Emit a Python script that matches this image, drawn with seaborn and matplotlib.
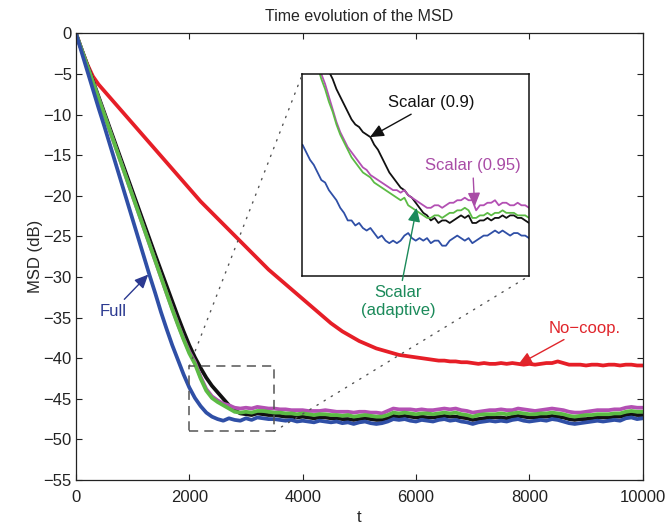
import matplotlib
matplotlib.use("Agg")
import matplotlib.pyplot as plt
import seaborn as sns
import pandas as pd
from matplotlib.patches import Rectangle, ConnectionPatch

# ---------------- data ----------------
t = list(range(0, 10001, 100))

msd_nocoop = [
    0.0, -2.0, -3.8, -5.3, -6.3, -7.1, -7.9, -8.7, -9.5, -10.3,
    -11.1, -11.9, -12.7, -13.5, -14.3, -15.1, -15.9, -16.7, -17.5, -18.3,
    -19.1, -19.9, -20.7, -21.4, -22.1, -22.8, -23.5, -24.2, -24.9, -25.6,
    -26.3, -27.0, -27.7, -28.4, -29.1, -29.7, -30.3, -30.9, -31.5, -32.1,
    -32.7, -33.3, -33.9, -34.5, -35.1, -35.7, -36.2, -36.7, -37.1, -37.5,
    -37.9, -38.2, -38.5, -38.8, -39.0, -39.2, -39.4, -39.6, -39.7, -39.8,
    -39.9, -40.0, -40.1, -40.2, -40.3, -40.3, -40.4, -40.4, -40.5, -40.5,
    -40.6, -40.7, -40.6, -40.7, -40.7, -40.6, -40.7, -40.6, -40.7, -40.8,
    -40.7, -40.8, -40.7, -40.6, -40.6, -40.4, -40.6, -40.8, -40.8, -40.8,
    -40.9, -40.8, -40.8, -40.9, -40.8, -40.8, -40.9, -40.8, -40.8, -40.9, -40.9]

msd_full = [
    0.0, -2.3, -4.6, -6.9, -9.2, -11.4, -13.7, -16.0, -18.3, -20.6,
    -22.9, -25.2, -27.5, -29.8, -32.0, -34.3, -36.4, -38.4, -40.2, -42.0,
    -43.6, -44.9, -45.9, -46.7, -47.2, -47.5, -47.7, -47.4, -47.6, -47.7,
    -47.4, -47.6, -47.3, -47.4, -47.5, -47.5, -47.6, -47.7, -47.6, -47.8,
    -47.7, -47.8, -47.9, -47.7, -47.8, -47.9, -47.8, -48.0, -47.9, -48.1,
    -47.9, -47.8, -48.0, -48.1, -48.0, -47.8, -47.5, -47.6, -47.5, -47.7,
    -47.8, -47.6, -47.7, -47.8, -47.6, -47.5, -47.7, -47.6, -47.8, -47.9,
    -48.1, -47.9, -47.8, -47.7, -47.8, -47.7, -47.8, -47.6, -47.5, -47.7,
    -47.8, -47.7, -47.6, -47.7, -47.5, -47.6, -47.8, -48.0, -48.1, -48.0,
    -47.9, -47.8, -47.7, -47.8, -47.7, -47.6, -47.7, -47.4, -47.3, -47.5, -47.4]

msd_scalar09 = [
    0.0, -1.95, -3.9, -5.85, -7.8, -9.75, -11.7, -13.65, -15.6, -17.55,
    -19.5, -21.45, -23.4, -25.35, -27.3, -29.2, -31.1, -33.0, -34.9, -36.7,
    -38.4, -39.9, -41.2, -42.4, -43.4, -44.2, -45.0, -45.8, -46.4, -46.8,
    -46.9, -47.0, -46.8, -46.9, -47.0, -47.0, -47.1, -47.2, -47.2, -47.3,
    -47.2, -47.3, -47.4, -47.3, -47.3, -47.4, -47.4, -47.5, -47.5, -47.6,
    -47.5, -47.4, -47.5, -47.6, -47.6, -47.4, -47.1, -47.2, -47.1, -47.2,
    -47.3, -47.2, -47.3, -47.3, -47.2, -47.1, -47.2, -47.2, -47.3, -47.4,
    -47.6, -47.5, -47.4, -47.3, -47.3, -47.3, -47.4, -47.2, -47.1, -47.2,
    -47.3, -47.3, -47.2, -47.2, -47.1, -47.2, -47.3, -47.5, -47.6, -47.5,
    -47.5, -47.4, -47.3, -47.3, -47.3, -47.2, -47.2, -47.0, -46.9, -47.0, -47.0]

msd_scalar_adapt = [
    0.0, -2.0, -4.0, -6.0, -8.0, -10.0, -12.0, -14.0, -16.0, -18.0,
    -20.0, -22.0, -24.0, -26.0, -28.0, -30.0, -32.0, -34.0, -35.9, -37.7,
    -39.4, -40.7, -42.5, -44.0, -44.9, -45.4, -45.8, -46.2, -46.6, -46.7,
    -46.6, -46.7, -46.5, -46.5, -46.6, -46.7, -46.7, -46.8, -46.8, -46.9,
    -46.8, -46.9, -47.0, -46.9, -46.9, -47.0, -47.0, -47.1, -47.0, -47.2,
    -47.1, -47.0, -47.1, -47.2, -47.2, -47.0, -46.7, -46.8, -46.7, -46.8,
    -46.9, -46.8, -46.8, -46.9, -46.8, -46.7, -46.8, -46.7, -46.9, -47.0,
    -47.2, -47.0, -46.9, -46.9, -46.9, -46.8, -46.9, -46.8, -46.7, -46.8,
    -46.9, -46.9, -46.8, -46.8, -46.7, -46.8, -46.9, -47.1, -47.2, -47.1,
    -47.0, -47.0, -46.9, -46.9, -46.9, -46.8, -46.8, -46.6, -46.5, -46.6, -46.6]

msd_scalar095 = [
    0.0, -2.0, -4.0, -6.0, -8.0, -10.0, -12.0, -14.0, -16.0, -18.0,
    -20.0, -22.0, -24.0, -26.0, -28.0, -30.0, -32.0, -33.9, -35.8, -37.6,
    -39.2, -40.5, -42.3, -43.8, -44.7, -45.2, -45.6, -45.8, -46.1, -46.2,
    -46.1, -46.2, -46.0, -46.1, -46.2, -46.2, -46.3, -46.3, -46.4, -46.4,
    -46.4, -46.5, -46.5, -46.5, -46.4, -46.5, -46.6, -46.6, -46.6, -46.7,
    -46.6, -46.6, -46.7, -46.7, -46.8, -46.5, -46.2, -46.3, -46.3, -46.3,
    -46.4, -46.3, -46.4, -46.4, -46.3, -46.2, -46.3, -46.2, -46.4, -46.5,
    -46.7, -46.6, -46.5, -46.4, -46.4, -46.3, -46.4, -46.4, -46.2, -46.3,
    -46.4, -46.5, -46.4, -46.3, -46.2, -46.3, -46.4, -46.6, -46.7, -46.7,
    -46.6, -46.5, -46.4, -46.4, -46.4, -46.3, -46.3, -46.1, -46.0, -46.1, -46.1]

# finer view used for the zoomed inset (t = 2000 ... 3500, step 25)
t_zoom = list(range(2000, 3501, 25))
zoom_full = [
    -43.8, -44.1, -44.4, -44.6, -44.9, -45.2, -45.3, -45.6, -45.8, -46.0,
    -46.3, -46.5, -46.8, -46.8, -47.0, -46.9, -47.1, -47.2, -47.1, -47.3,
    -47.5, -47.4, -47.6, -47.7, -47.6, -47.7, -47.6, -47.4, -47.3, -47.5,
    -47.6, -47.5, -47.6, -47.5, -47.7, -47.6, -47.6, -47.8, -47.8, -47.6,
    -47.5, -47.4, -47.5, -47.6, -47.5, -47.7, -47.6, -47.5, -47.4, -47.4,
    -47.3, -47.2, -47.3, -47.2, -47.3, -47.4, -47.3, -47.3, -47.4, -47.4,
    -47.5]
zoom_scalar09 = [
    -38.4, -38.8, -39.2, -39.5, -39.9, -40.3, -40.6, -40.9, -41.2, -41.6,
    -41.9, -42.2, -42.5, -42.8, -43.0, -43.1, -43.3, -43.4, -43.5, -43.8,
    -44.0, -44.3, -44.6, -44.9, -45.1, -45.3, -45.5, -45.6, -45.8, -45.9,
    -46.1, -46.3, -46.5, -46.6, -46.8, -46.7, -46.9, -46.8, -46.8, -46.9,
    -46.8, -46.7, -46.6, -46.7, -46.6, -46.9, -46.9, -46.8, -46.8, -46.7,
    -46.8, -46.7, -46.7, -46.6, -46.7, -46.6, -46.6, -46.7, -46.7, -46.8,
    -46.9]
zoom_scalar_adapt = [
    -39.4, -39.7, -40.0, -40.4, -40.7, -41.2, -41.6, -42.1, -42.5, -43.0,
    -43.4, -43.7, -44.0, -44.3, -44.5, -44.7, -44.9, -45.0, -45.1, -45.3,
    -45.4, -45.5, -45.6, -45.7, -45.8, -45.9, -46.0, -45.9, -46.2, -46.3,
    -46.4, -46.5, -46.6, -46.7, -46.7, -46.6, -46.6, -46.7, -46.6, -46.5,
    -46.5, -46.4, -46.4, -46.3, -46.4, -46.7, -46.7, -46.6, -46.6, -46.5,
    -46.6, -46.5, -46.5, -46.4, -46.5, -46.5, -46.5, -46.6, -46.6, -46.6,
    -46.7]
zoom_scalar095 = [
    -39.2, -39.5, -39.9, -40.2, -40.5, -41.0, -41.4, -41.9, -42.4, -42.9,
    -43.3, -43.6, -43.9, -44.1, -44.3, -44.5, -44.7, -44.8, -45.0, -45.1,
    -45.2, -45.3, -45.4, -45.5, -45.6, -45.6, -45.7, -45.6, -45.8, -45.9,
    -46.0, -46.1, -46.2, -46.3, -46.3, -46.2, -46.2, -46.3, -46.2, -46.1,
    -46.1, -46.0, -46.0, -45.9, -46.0, -46.0, -46.4, -46.2, -46.2, -46.1,
    -46.1, -46.0, -46.2, -46.1, -46.1, -46.2, -46.2, -46.1, -46.2, -46.2,
    -46.3]

x_ticks = [0, 2000, 4000, 6000, 8000, 10000]
y_ticks = [0, -5, -10, -15, -20, -25, -30, -35, -40, -45, -50, -55]

# ---------------- style ----------------
sns.set_style("ticks")
plt.rcParams['font.family'] = ['Liberation Sans', 'DejaVu Sans']
plt.rcParams['axes.unicode_minus'] = True

C_RED = '#e61e27'
C_BLUE = '#2f4fa6'
C_GREEN = '#5cbb45'
C_MAG = '#b350b3'
C_BLACK = '#111111'

fig = plt.figure(figsize=(6.68, 5.25), dpi=100)
ax = fig.add_axes([0.1136, 0.0857, 0.8486, 0.8509])

df = pd.DataFrame({'t': t, 'nocoop': msd_nocoop, 'full': msd_full,
                   's09': msd_scalar09, 'sad': msd_scalar_adapt,
                   's095': msd_scalar095})
LW = 2.7
for col, c in [('nocoop', C_RED), ('s09', C_BLACK), ('s095', C_MAG),
               ('sad', C_GREEN), ('full', C_BLUE)]:
    sns.lineplot(data=df, x='t', y=col, ax=ax, color=c, linewidth=LW,
                 estimator=None, sort=False)

ax.set_xlim(0, 10000)
ax.set_ylim(-55, 0)
ax.set_xticks(x_ticks)
ax.set_yticks(y_ticks)
ax.tick_params(direction='in', length=4, width=0.8, top=True, right=True,
               labelsize=12, colors='#222222')
ax.tick_params(axis='x', pad=7)
ax.tick_params(axis='y', pad=3)
for s in ax.spines.values():
    s.set_linewidth(0.9)
    s.set_color('#222222')
ax.set_xlabel('t', fontsize=12, labelpad=4)
ax.set_ylabel('MSD (dB)', fontsize=12, labelpad=0)
ax.set_title('Time evolution of the MSD', fontsize=11.5, pad=9)

# zoom region
zx0, zx1, zy0, zy1 = 2000, 3500, -49, -41
ax.add_patch(Rectangle((zx0, zy0), zx1 - zx0, zy1 - zy0, fill=False,
                       ec='#555555', lw=1.1, ls=(0, (6, 4)), zorder=5))

axins = fig.add_axes([0.4528, 0.4743, 0.3391, 0.3848])
dz = pd.DataFrame({'t': t_zoom, 'full': zoom_full, 's09': zoom_scalar09,
                   'sad': zoom_scalar_adapt, 's095': zoom_scalar095})
for col, c in [('s09', C_BLACK), ('s095', C_MAG), ('sad', C_GREEN),
               ('full', C_BLUE)]:
    sns.lineplot(data=dz, x='t', y=col, ax=axins, color=c, linewidth=1.3,
                 estimator=None, sort=False)
axins.set_xlim(zx0, zx1)
axins.set_ylim(zy0, zy1)
axins.set_xticks([])
axins.set_yticks([])
axins.set_xlabel('')
axins.set_ylabel('')
for s in axins.spines.values():
    s.set_linewidth(1.1)
    s.set_color('#111111')

for (pa, pb) in [((zx0, zy1), (0, 1)), ((zx1, zy0), (1, 0))]:
    con = ConnectionPatch(xyA=pa, coordsA=ax.transData, xyB=pb,
                          coordsB=axins.transAxes, color='#555555', lw=1.0,
                          ls=(0, (1, 5)))
    fig.add_artist(con)

arrow = dict(arrowstyle='-|>,head_length=0.55,head_width=0.25', lw=1.0,
             mutation_scale=15, shrinkA=1, shrinkB=0)

ax.annotate('Full', xy=(1277, -29.7), xytext=(654, -34.2), fontsize=12,
            color='#2b3990', ha='center', va='center',
            arrowprops=dict(arrow, color='#2b3990'))
ax.annotate('No\u2212coop.', xy=(7802, -40.8), xytext=(8979, -36.3),
            fontsize=12, color='#e0252b', ha='center', va='center',
            arrowprops=dict(arrow, color='#e0252b'))
axins.annotate('Scalar (0.9)', xy=(2447, -43.5), xytext=(2856, -42.14),
               fontsize=12, color='#111111', ha='center', va='center',
               arrowprops=dict(arrow, color='#111111'))
axins.annotate('Scalar (0.95)', xy=(3140, -46.25), xytext=(3127, -44.64),
               fontsize=12, color='#a94ca6', ha='center', va='center',
               arrowprops=dict(arrow, color='#a94ca6'))
axins.annotate('Scalar\n(adaptive)', xy=(2756, -46.3), xytext=(5686, -33.0),
               textcoords=ax.transData, fontsize=12, color='#1b8a5a',
               ha='center', va='center', multialignment='center',
               annotation_clip=False,
               arrowprops=dict(arrow, color='#1b8a5a'))

fig.savefig('out.png', dpi=100)
